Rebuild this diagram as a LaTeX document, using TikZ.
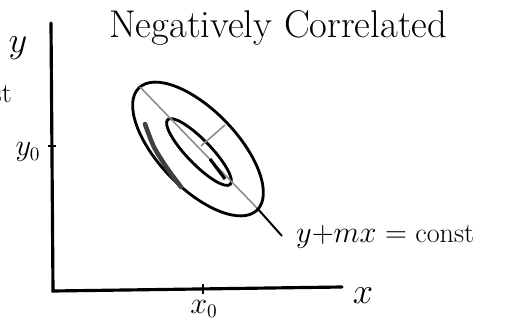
\documentclass[tikz,border=0pt]{standalone}
\usetikzlibrary{calc}
\begin{document}
\begin{tikzpicture}[x=0.02cm, y=-0.02cm,
        axis/.style={line width=1.8pt, black, line cap=round},
        tickmark/.style={line width=1.2pt, black},
        contour/.style={line width=1.6pt, black},
        guide/.style={line width=0.9pt, black!45},
        shade/.style={line width=2.6pt, black!75, line cap=round},
        big/.style={font=\fontsize{20}{24}\selectfont},
        small/.style={font=\fontsize{16}{19}\selectfont},
        title/.style={font=\fontsize{22}{26}\selectfont}
    ]
    \useasboundingbox (0,0) rectangle (512,322);

    % Axes
    \coordinate (ytop) at (51,23);
    \coordinate (o) at (53,291);
    \coordinate (xend) at (342,287);
    \draw[axis] (ytop) -- (o) -- (xend);

    % Ticks
    \coordinate (y0) at (52,146);
    \coordinate (x0) at (203,290);
    \draw[tickmark] ($(y0)+(-4,0)$) -- ($(y0)+(4,0)$);
    \draw[tickmark] ($(x0)+(0,-6)$) -- ($(x0)+(0,4)$);

    % Axis labels
    \node[big] (ylab) at (18,48) {$y$};
    \node[big] (xlab) at (363,296) {$x$};
    \node[small] (y0lab) at (28,152) {$y_0$};
    \node[small] (x0lab) at (204,309) {$x_0$};
    \node[small, anchor=east] (cut) at (18,94) {const};

    % Title
    \node[title, anchor=base west] (ttl) at (103,37) {Negatively Correlated};

    % Ellipses
    \coordinate (c) at (198,149);
    \coordinate (ci) at (199,152);
    \draw[contour, rotate around={-46:(c)}] (c) ellipse [x radius=85, y radius=39];
    \draw[contour, rotate around={-46:(ci)}] (ci) ellipse [x radius=45, y radius=12];
    \draw[shade] plot[smooth] coordinates {(145,124) (154,147) (167,168) (181,187)};

    % Line y+mx = const
    \coordinate (ls) at (140,87);
    \coordinate (lo) at (257,208);
    \coordinate (le) at (282,236);
    \draw[guide] (ls) -- (lo);
    \draw[line width=1.1pt] (lo) -- (le);
    \draw[line width=1.8pt] (210,159) -- (225,179);

    % Width mark
    \coordinate (pm) at (201,146);
    \coordinate (pe) at (225,125);
    \draw[guide] (pm) -- (pe);

    \node[small, anchor=west] (lineq) at (290,237) {$y{+}mx$ ${=}$ const};
\end{tikzpicture}
\end{document}
